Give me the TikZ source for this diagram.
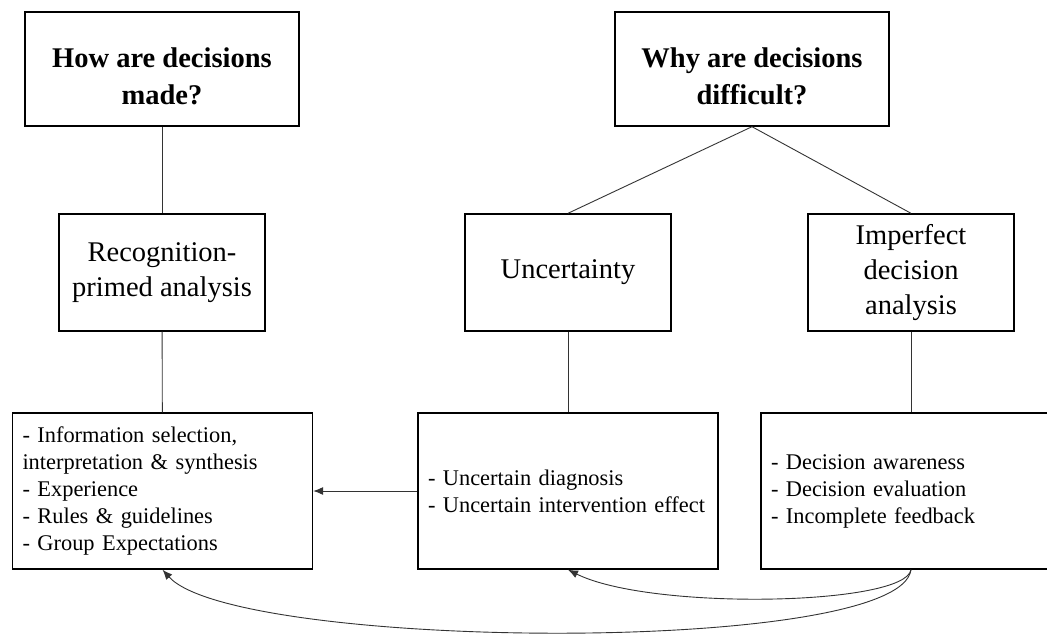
\documentclass[tikz,border=0pt]{standalone}
\usepackage{fontspec}
\setmainfont{Liberation Serif}
\usetikzlibrary{
    arrows.meta,
    positioning
}

\begin{document}
\begin{tikzpicture}[x=1pt, y=-1pt,
    qbox/.style={draw, line width=1.4pt, minimum width=274pt, minimum height=114pt, align=center, font=\fontsize{28.5}{37}\selectfont\bfseries},
    cbox/.style={draw, line width=1.4pt, minimum width=206pt, minimum height=117pt, align=center, font=\fontsize{28.5}{35}\selectfont},
    dbox/.style={draw, line width=1.4pt, minimum height=156pt, text width=280pt, inner xsep=10pt, align=left, font=\fontsize{22.4}{27}\selectfont},
    link/.style={black!80, line width=0.9pt},
    arrowlink/.style={link, -{Latex[length=10pt, width=8pt]}}]
                                \useasboundingbox (0,0) rectangle (1047,634);
                                \clip (0,0) rectangle (1047,634);
                                \node[qbox] (l) at (162, 69) {\rule{0pt}{34pt}How are decisions\\made?};
                                \node[qbox] (r) at (752, 69) {\rule{0pt}{34pt}Why are decisions\\difficult?};
                                \node[cbox] (lb) at (162, 272.5) {Recognition-\\primed analysis};
                                \node[cbox] (rl) at (568, 272.5) {Uncertainty};
                                \node[cbox] (rr) at (911, 272.5) {Imperfect\\decision\\analysis};
                                \node[dbox] (lbb) at (162.5, 491) {- Information selection,\\interpretation \& synthesis\\- Experience\\- Rules \& guidelines\\- Group Expectations};
                                \node[dbox] (rlb) at (568, 491) {- Uncertain diagnosis\\- Uncertain intervention effect};
                                \node[dbox] (rrb) at (911, 491) {- Decision awareness\\- Decision evaluation\\- Incomplete feedback};
                                \draw[link]
                                (l) edge (lb)
                                (lb) edge (lbb)
                                (r.south) edge (rl.north)
                                (r.south) edge (rr.north)
                                (rl) edge (rlb)
                                (rr) edge (rrb);
                                \draw[arrowlink] (rlb) -- (lbb);
                                \draw[arrowlink] (rrb.south) .. controls +(-6, 36) and +(82, 41) .. (rlb.south);
                                \draw[arrowlink] (rrb.south) .. controls +(-11, 86) and +(73, 81) .. (lbb.south);
                            \end{tikzpicture}
\end{document}
